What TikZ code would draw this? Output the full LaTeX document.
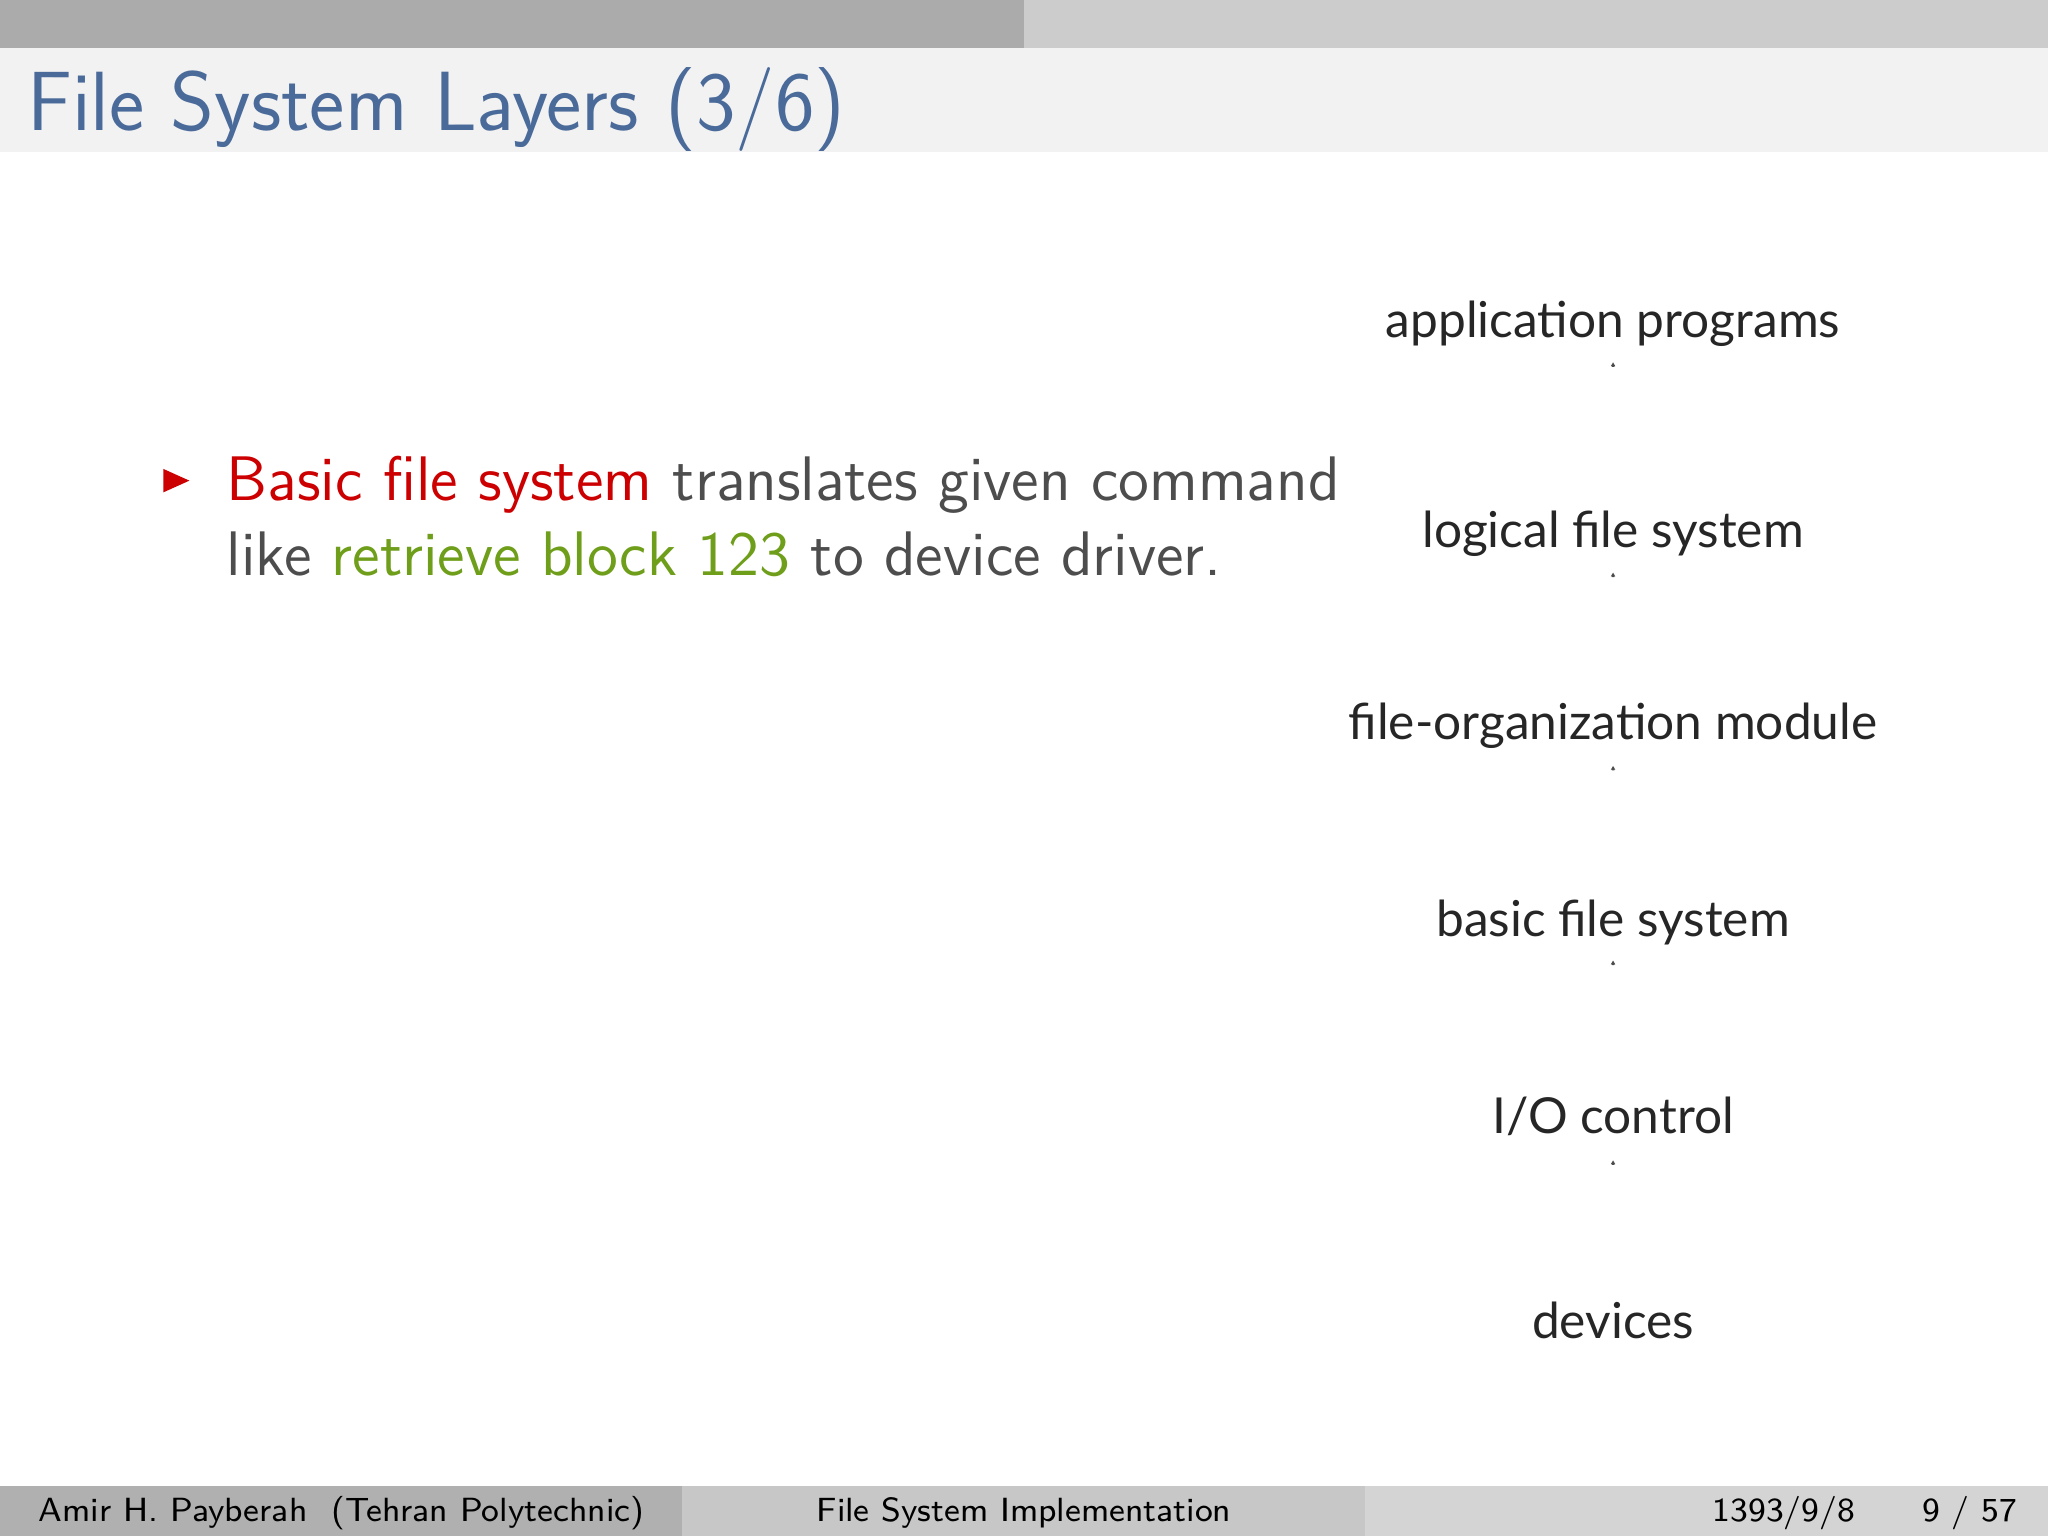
\documentclass[tikz,border=0pt]{standalone}
\usepackage{fontspec}
\newfontfamily\figfont{Lato}
\definecolor{titleblue}{HTML}{4A6A9A}
\definecolor{alertred}{HTML}{CC0000}
\definecolor{exgreen}{HTML}{6E9E1A}
\definecolor{bodygray}{HTML}{4D4D4D}
\definecolor{arrowcyan}{HTML}{1FB0E8}
\tikzset{
  layer/.style={font=\figfont\fontsize{10.8}{12}\selectfont, text=black!85, inner sep=0pt},
  pics/dnarrow/.style={code={
    \shade[top color=white, bottom color=arrowcyan, draw=black!70, line width=0.5pt]
      (-0.07,0) -- (0.07,0) -- (0.07,-0.55) -- (0.16,-0.55) -- (0,-0.82) -- (-0.16,-0.55) -- (-0.07,-0.55) -- cycle;
  }}
}
\begin{document}
\begin{tikzpicture}[x=0.01cm,y=-0.01cm]
\useasboundingbox (0,0) rectangle (1568,1176);
\fill[white] (0,0) rectangle (1568,1176);
\fill[black!33] (0,0) rectangle (784,37);
\fill[black!20] (784,0) rectangle (1568,37);
\fill[black!5] (0,37) rectangle (1568,116);
\node[anchor=base west, inner sep=0pt, text=titleblue, font=\sffamily\fontsize{18.3}{22}\selectfont] (title) at (20,100) {File System Layers (3/6)};
% bullet
\fill[alertred] (125,359) -- (145,368) -- (125,377) -- cycle;
\node[anchor=base west, inner sep=0pt, text=bodygray, font=\sffamily\fontsize{13.7}{16}\selectfont] (l1) at (173,383) {\textcolor{alertred}{Basic file system} translates given command};
\node[anchor=base west, inner sep=0pt, text=bodygray, font=\sffamily\fontsize{13.7}{16}\selectfont] (l2) at (173,441) {like \textcolor{exgreen}{retrieve block 123} to device driver.};
% diagram
\node[layer] (a) at (1235,248) {application programs};
\node[layer] (b) at (1235,409) {logical file system};
\node[layer] (c) at (1235,556) {file-organization module};
\node[layer] (d) at (1235,706) {basic file system};
\node[layer] (e) at (1235,855) {I/O control};
\node[layer] (f) at (1235,1011) {devices};
\pic at (1235,280) {dnarrow};
\pic at (1235,441) {dnarrow};
\pic at (1235,589) {dnarrow};
\pic at (1235,738) {dnarrow};
\pic at (1235,891) {dnarrow};
% footer
\fill[black!31] (0,1138) rectangle (522,1176);
\fill[black!22] (522,1138) rectangle (1045,1176);
\fill[black!17] (1045,1138) rectangle (1568,1176);
\node[anchor=base west, inner sep=0pt, font=\sffamily\fontsize{7.3}{9}\selectfont] (f1) at (29,1165) {Amir H. Payberah\ \ (Tehran Polytechnic)};
\node[anchor=base, inner sep=0pt, font=\sffamily\fontsize{7.3}{9}\selectfont] (f2) at (784,1165) {File System Implementation};
\node[anchor=base east, inner sep=0pt, font=\sffamily\fontsize{7.3}{9}\selectfont] (f3) at (1545,1165) {1393/9/8\qquad 9 / 57};
\end{tikzpicture}
\end{document}
